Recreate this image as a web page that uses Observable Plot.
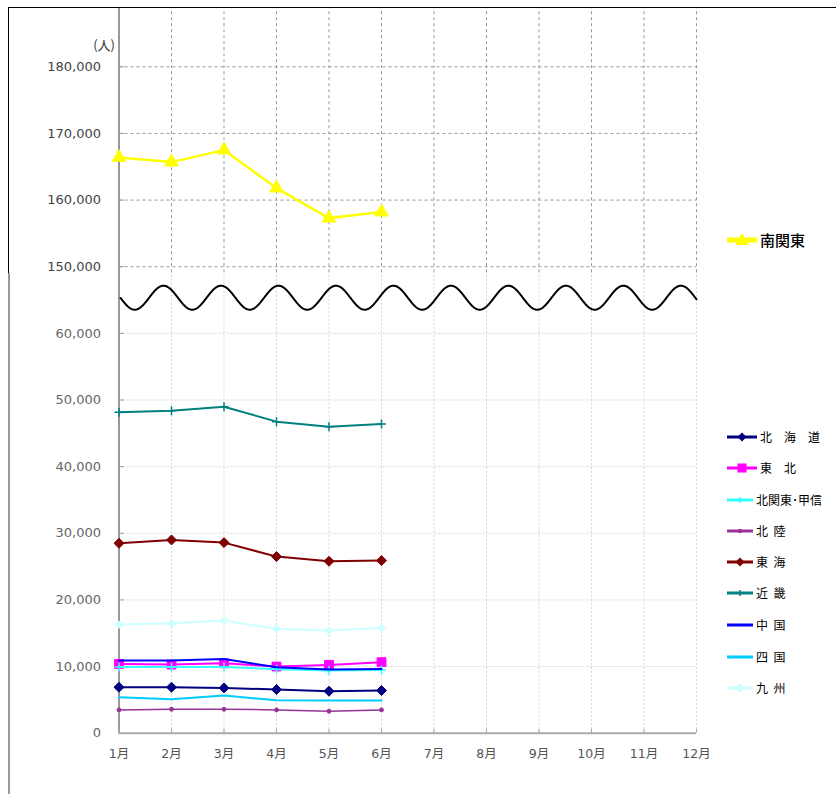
<!DOCTYPE html>
<html>
<head>
<meta charset="utf-8">
<script src="https://cdn.jsdelivr.net/npm/d3@7"></script>
<script src="https://cdn.jsdelivr.net/npm/@observablehq/plot@0.6"></script>
<style>
  html, body { margin: 0; padding: 0; background: #fff; }
  #wrap { position: relative; width: 836px; height: 794px; overflow: hidden; font-family: "DejaVu Sans", "Noto Sans CJK JP", sans-serif; }
  #chart { position: absolute; left: 0; top: 0; }
  #chart svg { display: block; }
  .legend { position: absolute; left: 727px; top: 0; width: 109px; height: 794px; font-family: "Noto Sans CJK JP", sans-serif; color: #000; }
  .item { position: absolute; left: 0; display: flex; align-items: center; white-space: pre; font-size: 12px; height: 16px; line-height: 16px; }
  .item svg { display: block; margin-right: 3px; }
  .topline { position: absolute; left: 8px; top: 7px; right: 0; height: 1px; background: #000; }
  .leftA { position: absolute; left: 8px; top: 7px; width: 1px; height: 266px; background: #000; }
  .leftB { position: absolute; left: 8px; top: 273px; width: 2px; bottom: 0; background: #999; }
</style>
</head>
<body>
<div id="wrap">
  <div id="chart"></div>
  <div class="topline"></div>
  <div class="leftA"></div>
  <div class="leftB"></div>
  <div id="legend" class="legend"></div>
</div>
<script>
// ---- data ----
const months = [1, 2, 3, 4, 5, 6];
const monthLabels = ["1月","2月","3月","4月","5月","6月","7月","8月","9月","10月","11月","12月"];
const minamiKanto = [166400, 165700, 167500, 161800, 157300, 158200];
const hokkaido    = [6900, 6900, 6800, 6550, 6300, 6400];
const tohoku      = [10400, 10300, 10500, 10000, 10250, 10650];
const kitaKanto   = [9950, 9950, 9950, 9600, 9400, 9500];
const hokuriku    = [3500, 3600, 3600, 3500, 3300, 3500];
const tokai       = [28500, 29000, 28600, 26500, 25800, 25900];
const kinki       = [48150, 48400, 49000, 46750, 46000, 46400];
const chugoku     = [10900, 10900, 11150, 9900, 9550, 9650];
const shikoku     = [5400, 5100, 5650, 4950, 4900, 4900];
const kyushu      = [16300, 16500, 16900, 15650, 15400, 15800];
const yTicksLower = [0, 10000, 20000, 30000, 40000, 50000, 60000];
const yTicksUpper = [150000, 160000, 170000, 180000];
const unitLabel = "(人)";

// ---- broken axis mapping ----
const breakShift = 80000; // 150,000 sits one step above 60,000
const yv = v => v >= 100000 ? v - breakShift : v;
const yTop = 108900;
const splitY = 69100;

const series = [
  {name: "北　海　道", values: hokkaido,  color: "#000080", width: 2,   symbol: "diamond2", r: 4.5},
  {name: "東　北",     values: tohoku,    color: "#FF00FF", width: 2,   symbol: "square",   r: 5},
  {name: "北関東･甲信", values: kitaKanto, color: "#33FFFF", width: 2,   symbol: "plus",     r: 3},
  {name: "北  陸",     values: hokuriku,  color: "#993399", width: 1.5, symbol: "circle",   r: 2},
  {name: "東  海",     values: tokai,     color: "#800000", width: 2,   symbol: "diamond2", r: 4.5},
  {name: "近  畿",     values: kinki,     color: "#008080", width: 2,   symbol: "plus",     r: 3},
  {name: "中  国",     values: chugoku,   color: "#0000FF", width: 2,   symbol: null,       r: 0},
  {name: "四  国",     values: shikoku,   color: "#00CCFF", width: 2,   symbol: null,       r: 0},
  {name: "九  州",     values: kyushu,    color: "#CCFFFF", width: 2,   symbol: "diamond2", r: 3.5},
  {name: "南関東",     values: minamiKanto, color: "#FFFF00", width: 2.5, symbol: "triangle", r: 5}
];

const rows = series.flatMap(s => s.values.map((v, i) => ({name: s.name, month: months[i], v: yv(v)})));

// decorative break symbol (wavy line)
const waveCenter = 65350, waveAmp = 1800, wavePeriod = 1.095, wavePeak = 1.848;
const wave = d3.range(1.03, 12.0001, 0.01).map(m => ({m, y: waveCenter + waveAmp * Math.cos(2 * Math.PI * (m - wavePeak) / wavePeriod)}));

const gridMonths = d3.range(2, 13);
const allMonths = d3.range(1, 13);
const fmt = d3.format(",");

const marks = [
  // grid lines
  Plot.ruleX(gridMonths, {x: d => d, y1: 0, y2: splitY, stroke: "#d4d4d4", strokeDasharray: "2,2"}),
  Plot.ruleX(gridMonths, {x: d => d, y1: splitY, y2: yTop, stroke: "#999", strokeDasharray: "3,3"}),
  Plot.ruleY(yTicksLower.slice(1), {y: d => d, x1: 1, x2: 12, stroke: "#d4d4d4", strokeDasharray: "2,2"}),
  Plot.ruleY(yTicksUpper, {y: d => yv(d), x1: 1, x2: 12, stroke: "#999", strokeDasharray: "3,3"}),
  // axes lines
  Plot.ruleX([1], {x: d => d, y1: 0, y2: yTop, stroke: "#999", strokeWidth: 2}),
  Plot.ruleY([0], {y: d => d, x1: 1, x2: 12, stroke: "#aaa", strokeWidth: 2}),
  // tick marks
  Plot.ruleY(yTicksLower.slice(1).concat(yTicksUpper.map(yv)), {y: d => d, x1: 1, x2: 1.1, stroke: "#999", strokeWidth: 1}),
  Plot.ruleX(allMonths, {x: d => d, y1: 0, y2: 600, stroke: "#aaa", strokeWidth: 1}),
  // break symbol
  Plot.line(wave, {x: "m", y: "y", stroke: "#000", strokeWidth: 2, curve: "linear"})
];

for (const s of series) {
  const data = rows.filter(r => r.name === s.name);
  marks.push(Plot.line(data, {x: "month", y: "v", stroke: s.color, strokeWidth: s.width}));
  if (s.symbol) {
    const stroked = s.symbol === "plus";
    marks.push(Plot.dot(data, {x: "month", y: "v", r: s.r, symbol: s.symbol,
      fill: stroked ? "none" : s.color, stroke: s.color, strokeWidth: stroked ? 1.5 : 1}));
  }
}

// tick labels
marks.push(
  Plot.text(yTicksLower, {x: () => 1, y: d => d, text: d => fmt(d), textAnchor: "end", dx: -18, fontSize: 13, fill: "#666", fontFamily: "DejaVu Sans"}),
  Plot.text(yTicksUpper, {x: () => 1, y: d => yv(d), text: d => fmt(d), textAnchor: "end", dx: -18, fontSize: 13, fill: "#444", fontFamily: "DejaVu Sans"}),
  Plot.text([unitLabel], {x: () => 1, y: () => 103100, text: d => d, textAnchor: "end", dx: -4, fontSize: 13, fill: "#333", fontFamily: "Noto Sans CJK JP"}),
  Plot.text(allMonths, {x: d => d, y: () => 0, text: d => monthLabels[d - 1], dy: 21, fontSize: 12.5, fill: "#555", fontFamily: "DejaVu Sans, Noto Sans CJK JP"})
);

const chart = Plot.plot({
  width: 836,
  height: 794,
  margin: 0,
  x: {type: "linear", domain: [1, 12], range: [118.5, 696], axis: null},
  y: {type: "linear", domain: [0, yTop], range: [732.7, 7], axis: null},
  style: {background: "transparent", fontFamily: "DejaVu Sans, Noto Sans CJK JP, sans-serif"},
  marks
});
document.getElementById("chart").appendChild(chart);

// ---- legend (HTML) ----
function icon(s, w, big) {
  const h = 16, cy = 8;
  let m = "";
  const cx = w / 2;
  if (s.symbol === "diamond2") m = `<rect x="${cx-3.2}" y="${cy-3.2}" width="6.4" height="6.4" transform="rotate(45 ${cx} ${cy})" fill="${s.color}"/>`;
  else if (s.symbol === "square") m = `<rect x="${cx-4.5}" y="${cy-4.5}" width="9" height="9" fill="${s.color}"/>`;
  else if (s.symbol === "plus") m = `<line x1="${cx}" y1="${cy-3}" x2="${cx}" y2="${cy+3}" stroke="${s.color}" stroke-width="1.5"/>`;
  else if (s.symbol === "circle") m = `<circle cx="${cx}" cy="${cy}" r="2.2" fill="${s.color}"/>`;
  else if (s.symbol === "triangle") m = `<path d="M${cx} ${cy-7} L${cx+7} ${cy+5} L${cx-7} ${cy+5} Z" fill="${s.color}"/>`;
  return `<svg width="${w}" height="${h}"><line x1="0" y1="${cy}" x2="${w}" y2="${cy}" stroke="${s.color}" stroke-width="${big ? 5 : 3}"/>${m}</svg>`;
}
const legend = document.getElementById("legend");
const mk = series[series.length - 1];
const top0 = document.createElement("div");
top0.className = "item";
top0.style.top = (240 - 8) + "px";
top0.style.fontSize = "15px";
top0.innerHTML = icon(mk, 30, true) + `<span style="font-weight:500">${mk.name}</span>`;
legend.appendChild(top0);
const rowsY = [437, 468, 500, 531, 562, 593, 625, 657, 688];
series.slice(0, 9).forEach((s, i) => {
  const el = document.createElement("div");
  el.className = "item";
  el.style.top = (rowsY[i] - 8) + "px";
  el.innerHTML = icon(s, i < 2 ? 30 : 26, false) + `<span>${s.name}</span>`;
  legend.appendChild(el);
});
</script>
</body>
</html>
